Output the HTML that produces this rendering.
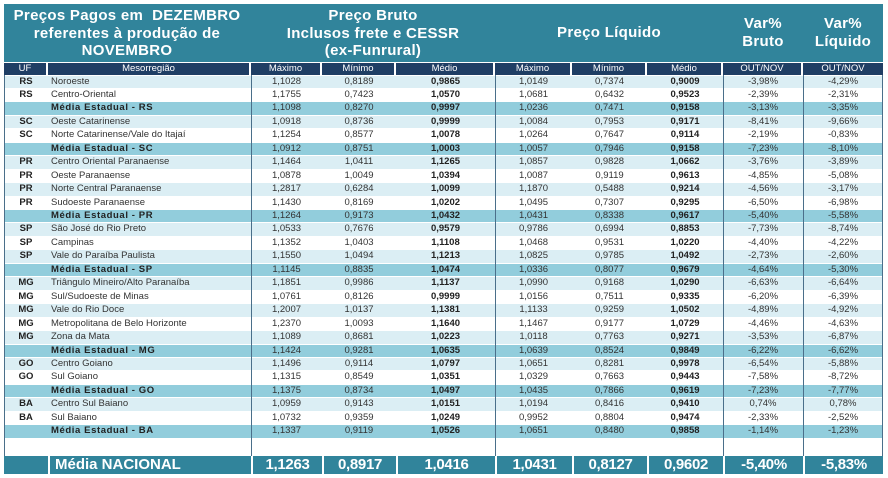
<!DOCTYPE html>
<html><head><meta charset="utf-8"><style>
*{margin:0;padding:0;box-sizing:border-box}
body{width:888px;height:478px;background:#fff;position:relative;overflow:hidden;font-family:"Liberation Sans",Arial,sans-serif}
.t{position:absolute;left:4px;top:4px;width:879px;height:58px;background:#31849b}
.tt{position:absolute;color:#fff;font-weight:bold;text-align:center;font-size:15px;line-height:17.5px;letter-spacing:0.3px}
.hr{position:absolute;top:62px;left:4px;height:13px;display:flex}
.hr div{background:#1f3e64;color:#fff;font-size:9.5px;text-align:center;line-height:12px;border-right:2px solid #fff;border-top:1px solid #fff}
.rows{position:absolute;left:4px;top:75.5px;width:879px}
.r{display:flex;height:13.46px;border-bottom:1px solid #fff;font-size:9.5px;line-height:12.5px;color:#333}
.r div{text-align:center;overflow:hidden;white-space:nowrap}
.r .n{text-align:left;padding-left:3px}
.r .u{font-weight:bold;color:#222}
.r .b{font-weight:bold;color:#222}
.l{background:#dbeef4}.w{background:#fff}.m{background:#92cddc}
.m .n{font-weight:bold;letter-spacing:0.6px;color:#222}
.c0{width:44px}.c1{width:203px}.c2{width:71px}.c3{width:74px}.c4{width:99px}.c5{width:77px}.c6{width:75px}.c7{width:76px}.c8{width:80px}.c9{width:80px}
.vl{position:absolute;width:1px;background:#4a6f8a;top:75px;height:381px}
.nat{position:absolute;left:4px;top:456px;width:879px;height:18px;background:#31849b;display:flex;color:#fff;font-size:15px;line-height:18px;font-weight:bold;letter-spacing:-0.3px}
.nat div{text-align:center;border-left:2px solid #fff}
</style></head><body>
<div class="t"></div>
<div class="tt" style="left:4px;width:246px;top:7px">Preços Pagos em&nbsp; DEZEMBRO<br>referentes à produção de<br>NOVEMBRO</div>
<div class="tt" style="left:251px;width:244px;top:7px">Preço Bruto<br>Inclusos frete e CESSR<br>(ex-Funrural)</div>
<div class="tt" style="left:495px;width:228px;top:24px">Preço Líquido</div>
<div class="tt" style="left:723px;width:80px;top:15px">Var%<br>Bruto</div>
<div class="tt" style="left:803px;width:80px;top:15px">Var%<br>Líquido</div>
<div class="hr">
<div class="c0">UF</div><div class="c1">Mesorregião</div><div class="c2">Máximo</div><div class="c3">Mínimo</div><div class="c4">Médio</div><div class="c5">Máximo</div><div class="c6">Mínimo</div><div class="c7">Médio</div><div class="c8">OUT/NOV</div><div class="c9" style="border-right:0">OUT/NOV</div>
</div>
<div class="rows">
<div class="r l"><div class="c0 u">RS</div><div class="c1 n">Noroeste</div><div class="c2">1,1028</div><div class="c3">0,8189</div><div class="c4 b">0,9865</div><div class="c5">1,0149</div><div class="c6">0,7374</div><div class="c7 b">0,9009</div><div class="c8">-3,98%</div><div class="c9">-4,29%</div></div>
<div class="r w"><div class="c0 u">RS</div><div class="c1 n">Centro-Oriental</div><div class="c2">1,1755</div><div class="c3">0,7423</div><div class="c4 b">1,0570</div><div class="c5">1,0681</div><div class="c6">0,6432</div><div class="c7 b">0,9523</div><div class="c8">-2,39%</div><div class="c9">-2,31%</div></div>
<div class="r m"><div class="c0"></div><div class="c1 n">Média Estadual - RS</div><div class="c2">1,1098</div><div class="c3">0,8270</div><div class="c4 b">0,9997</div><div class="c5">1,0236</div><div class="c6">0,7471</div><div class="c7 b">0,9158</div><div class="c8">-3,13%</div><div class="c9">-3,35%</div></div>
<div class="r l"><div class="c0 u">SC</div><div class="c1 n">Oeste Catarinense</div><div class="c2">1,0918</div><div class="c3">0,8736</div><div class="c4 b">0,9999</div><div class="c5">1,0084</div><div class="c6">0,7953</div><div class="c7 b">0,9171</div><div class="c8">-8,41%</div><div class="c9">-9,66%</div></div>
<div class="r w"><div class="c0 u">SC</div><div class="c1 n">Norte Catarinense/Vale do Itajaí</div><div class="c2">1,1254</div><div class="c3">0,8577</div><div class="c4 b">1,0078</div><div class="c5">1,0264</div><div class="c6">0,7647</div><div class="c7 b">0,9114</div><div class="c8">-2,19%</div><div class="c9">-0,83%</div></div>
<div class="r m"><div class="c0"></div><div class="c1 n">Média Estadual - SC</div><div class="c2">1,0912</div><div class="c3">0,8751</div><div class="c4 b">1,0003</div><div class="c5">1,0057</div><div class="c6">0,7946</div><div class="c7 b">0,9158</div><div class="c8">-7,23%</div><div class="c9">-8,10%</div></div>
<div class="r l"><div class="c0 u">PR</div><div class="c1 n">Centro Oriental Paranaense</div><div class="c2">1,1464</div><div class="c3">1,0411</div><div class="c4 b">1,1265</div><div class="c5">1,0857</div><div class="c6">0,9828</div><div class="c7 b">1,0662</div><div class="c8">-3,76%</div><div class="c9">-3,89%</div></div>
<div class="r w"><div class="c0 u">PR</div><div class="c1 n">Oeste Paranaense</div><div class="c2">1,0878</div><div class="c3">1,0049</div><div class="c4 b">1,0394</div><div class="c5">1,0087</div><div class="c6">0,9119</div><div class="c7 b">0,9613</div><div class="c8">-4,85%</div><div class="c9">-5,08%</div></div>
<div class="r l"><div class="c0 u">PR</div><div class="c1 n">Norte Central Paranaense</div><div class="c2">1,2817</div><div class="c3">0,6284</div><div class="c4 b">1,0099</div><div class="c5">1,1870</div><div class="c6">0,5488</div><div class="c7 b">0,9214</div><div class="c8">-4,56%</div><div class="c9">-3,17%</div></div>
<div class="r w"><div class="c0 u">PR</div><div class="c1 n">Sudoeste Paranaense</div><div class="c2">1,1430</div><div class="c3">0,8169</div><div class="c4 b">1,0202</div><div class="c5">1,0495</div><div class="c6">0,7307</div><div class="c7 b">0,9295</div><div class="c8">-6,50%</div><div class="c9">-6,98%</div></div>
<div class="r m"><div class="c0"></div><div class="c1 n">Média Estadual - PR</div><div class="c2">1,1264</div><div class="c3">0,9173</div><div class="c4 b">1,0432</div><div class="c5">1,0431</div><div class="c6">0,8338</div><div class="c7 b">0,9617</div><div class="c8">-5,40%</div><div class="c9">-5,58%</div></div>
<div class="r l"><div class="c0 u">SP</div><div class="c1 n">São José do Rio Preto</div><div class="c2">1,0533</div><div class="c3">0,7676</div><div class="c4 b">0,9579</div><div class="c5">0,9786</div><div class="c6">0,6994</div><div class="c7 b">0,8853</div><div class="c8">-7,73%</div><div class="c9">-8,74%</div></div>
<div class="r w"><div class="c0 u">SP</div><div class="c1 n">Campinas</div><div class="c2">1,1352</div><div class="c3">1,0403</div><div class="c4 b">1,1108</div><div class="c5">1,0468</div><div class="c6">0,9531</div><div class="c7 b">1,0220</div><div class="c8">-4,40%</div><div class="c9">-4,22%</div></div>
<div class="r l"><div class="c0 u">SP</div><div class="c1 n">Vale do Paraíba Paulista</div><div class="c2">1,1550</div><div class="c3">1,0494</div><div class="c4 b">1,1213</div><div class="c5">1,0825</div><div class="c6">0,9785</div><div class="c7 b">1,0492</div><div class="c8">-2,73%</div><div class="c9">-2,60%</div></div>
<div class="r m"><div class="c0"></div><div class="c1 n">Média Estadual - SP</div><div class="c2">1,1145</div><div class="c3">0,8835</div><div class="c4 b">1,0474</div><div class="c5">1,0336</div><div class="c6">0,8077</div><div class="c7 b">0,9679</div><div class="c8">-4,64%</div><div class="c9">-5,30%</div></div>
<div class="r l"><div class="c0 u">MG</div><div class="c1 n">Triângulo Mineiro/Alto Paranaíba</div><div class="c2">1,1851</div><div class="c3">0,9986</div><div class="c4 b">1,1137</div><div class="c5">1,0990</div><div class="c6">0,9168</div><div class="c7 b">1,0290</div><div class="c8">-6,63%</div><div class="c9">-6,64%</div></div>
<div class="r w"><div class="c0 u">MG</div><div class="c1 n">Sul/Sudoeste de Minas</div><div class="c2">1,0761</div><div class="c3">0,8126</div><div class="c4 b">0,9999</div><div class="c5">1,0156</div><div class="c6">0,7511</div><div class="c7 b">0,9335</div><div class="c8">-6,20%</div><div class="c9">-6,39%</div></div>
<div class="r l"><div class="c0 u">MG</div><div class="c1 n">Vale do Rio Doce</div><div class="c2">1,2007</div><div class="c3">1,0137</div><div class="c4 b">1,1381</div><div class="c5">1,1133</div><div class="c6">0,9259</div><div class="c7 b">1,0502</div><div class="c8">-4,89%</div><div class="c9">-4,92%</div></div>
<div class="r w"><div class="c0 u">MG</div><div class="c1 n">Metropolitana de Belo Horizonte</div><div class="c2">1,2370</div><div class="c3">1,0093</div><div class="c4 b">1,1640</div><div class="c5">1,1467</div><div class="c6">0,9177</div><div class="c7 b">1,0729</div><div class="c8">-4,46%</div><div class="c9">-4,63%</div></div>
<div class="r l"><div class="c0 u">MG</div><div class="c1 n">Zona da Mata</div><div class="c2">1,1089</div><div class="c3">0,8681</div><div class="c4 b">1,0223</div><div class="c5">1,0118</div><div class="c6">0,7763</div><div class="c7 b">0,9271</div><div class="c8">-3,53%</div><div class="c9">-6,87%</div></div>
<div class="r m"><div class="c0"></div><div class="c1 n">Média Estadual - MG</div><div class="c2">1,1424</div><div class="c3">0,9281</div><div class="c4 b">1,0635</div><div class="c5">1,0639</div><div class="c6">0,8524</div><div class="c7 b">0,9849</div><div class="c8">-6,22%</div><div class="c9">-6,62%</div></div>
<div class="r l"><div class="c0 u">GO</div><div class="c1 n">Centro Goiano</div><div class="c2">1,1496</div><div class="c3">0,9114</div><div class="c4 b">1,0797</div><div class="c5">1,0651</div><div class="c6">0,8281</div><div class="c7 b">0,9978</div><div class="c8">-6,54%</div><div class="c9">-5,88%</div></div>
<div class="r w"><div class="c0 u">GO</div><div class="c1 n">Sul Goiano</div><div class="c2">1,1315</div><div class="c3">0,8549</div><div class="c4 b">1,0351</div><div class="c5">1,0329</div><div class="c6">0,7663</div><div class="c7 b">0,9443</div><div class="c8">-7,58%</div><div class="c9">-8,72%</div></div>
<div class="r m"><div class="c0"></div><div class="c1 n">Média Estadual - GO</div><div class="c2">1,1375</div><div class="c3">0,8734</div><div class="c4 b">1,0497</div><div class="c5">1,0435</div><div class="c6">0,7866</div><div class="c7 b">0,9619</div><div class="c8">-7,23%</div><div class="c9">-7,77%</div></div>
<div class="r l"><div class="c0 u">BA</div><div class="c1 n">Centro Sul Baiano</div><div class="c2">1,0959</div><div class="c3">0,9143</div><div class="c4 b">1,0151</div><div class="c5">1,0194</div><div class="c6">0,8416</div><div class="c7 b">0,9410</div><div class="c8">0,74%</div><div class="c9">0,78%</div></div>
<div class="r w"><div class="c0 u">BA</div><div class="c1 n">Sul Baiano</div><div class="c2">1,0732</div><div class="c3">0,9359</div><div class="c4 b">1,0249</div><div class="c5">0,9952</div><div class="c6">0,8804</div><div class="c7 b">0,9474</div><div class="c8">-2,33%</div><div class="c9">-2,52%</div></div>
<div class="r m"><div class="c0"></div><div class="c1 n">Média Estadual - BA</div><div class="c2">1,1337</div><div class="c3">0,9119</div><div class="c4 b">1,0526</div><div class="c5">1,0651</div><div class="c6">0,8480</div><div class="c7 b">0,9858</div><div class="c8">-1,14%</div><div class="c9">-1,23%</div></div>
</div>
<div class="vl" style="left:4px"></div>
<div class="vl" style="left:251px"></div>
<div class="vl" style="left:495px"></div>
<div class="vl" style="left:723px"></div>
<div class="vl" style="left:803px"></div>
<div class="vl" style="left:882px"></div>
<div class="nat">
<div class="c0" style="border-left:0"></div><div class="c1" style="text-align:left;padding-left:5px;letter-spacing:0">Média NACIONAL</div><div class="c2">1,1263</div><div class="c3">0,8917</div><div class="c4">1,0416</div><div class="c5">1,0431</div><div class="c6">0,8127</div><div class="c7">0,9602</div><div class="c8">-5,40%</div><div class="c9">-5,83%</div>
</div>
</body></html>
